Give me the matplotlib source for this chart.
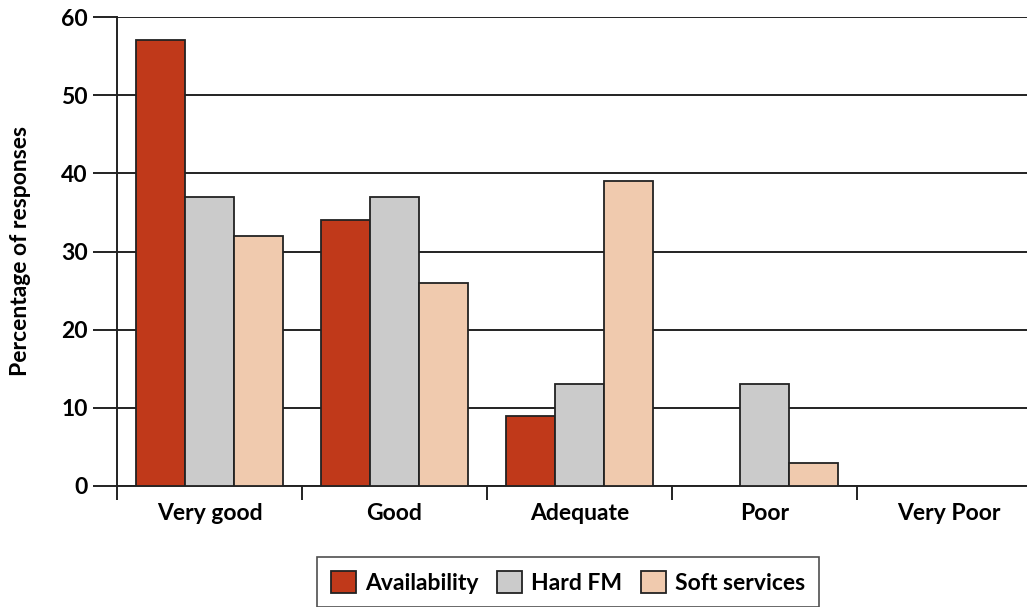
import numpy as np
import matplotlib
matplotlib.use('Agg')
import matplotlib.pyplot as plt

plt.rcParams['font.family'] = ['Lato', 'DejaVu Sans']

# Dữ liệu
categories = ['Very good', 'Good', 'Adequate', 'Poor', 'Very Poor']
availability = [57, 34, 9, 0, 0]
hard_fm = [37, 37, 13, 13, 0]
soft_services = [32, 26, 39, 3, 0]
series_names = ['Availability', 'Hard FM', 'Soft services']
colors = ['#C0391A', '#CBCBCB', '#F0CAAE']

fig = plt.figure(figsize=(10.27, 6.07), dpi=100)
ax = fig.add_axes([117 / 1027, 1 - 486 / 607, 1 - 117 / 1027, (486 - 17) / 607])

x = np.arange(len(categories))
w = 0.265
for i, (vals, name, c) in enumerate(zip([availability, hard_fm, soft_services], series_names, colors)):
    heights = np.array(vals, dtype=float)
    mask = heights > 0
    ax.bar(x[mask] + (i - 1) * w, heights[mask], width=w, color=c,
           edgecolor='#222222', linewidth=1.3, label=name, zorder=3)

ax.set_ylim(0, 60)
ax.set_xlim(-0.5, 4.42)
ax.set_yticks(range(0, 61, 10))
ax.grid(True, axis='y', color='#222222', linewidth=1.4, zorder=0)
ax.set_axisbelow(True)

for s in ['top', 'right']:
    ax.spines[s].set_visible(False)
for s in ['left', 'bottom']:
    ax.spines[s].set_linewidth(1.4)
    ax.spines[s].set_color('#222222')

# Trục X: vạch ở ranh giới, nhãn ở giữa
ax.set_xticks(np.arange(-0.5, 4.0, 1.0))
ax.set_xticklabels([])
ax.set_xticks(x, minor=True)
ax.set_xticklabels(categories, minor=True, fontsize=16.5, fontweight='bold')
ax.tick_params(axis='x', which='major', length=10, width=1.4, color='#222222')
ax.tick_params(axis='x', which='minor', length=0, pad=12)
ax.tick_params(axis='y', length=17, width=1.4, color='#222222', labelsize=16.5, pad=4)
for lab in ax.get_yticklabels():
    lab.set_fontweight('bold')

ax.set_ylabel('Percentage of responses', fontsize=16.5, fontweight='bold', labelpad=22)

leg = fig.legend(loc='upper left', bbox_to_anchor=(317 / 1027, 1 - 557 / 607),
                 borderaxespad=0, ncol=3, frameon=True, fancybox=False, edgecolor='#222222',
                 prop={'size': 16.5, 'weight': 'bold'}, handlelength=1.1, handleheight=1.1,
                 handletextpad=0.4, columnspacing=0.8, borderpad=0.6)
leg.get_frame().set_linewidth(1.2)

plt.savefig('out.png', dpi=100)
plt.close()
